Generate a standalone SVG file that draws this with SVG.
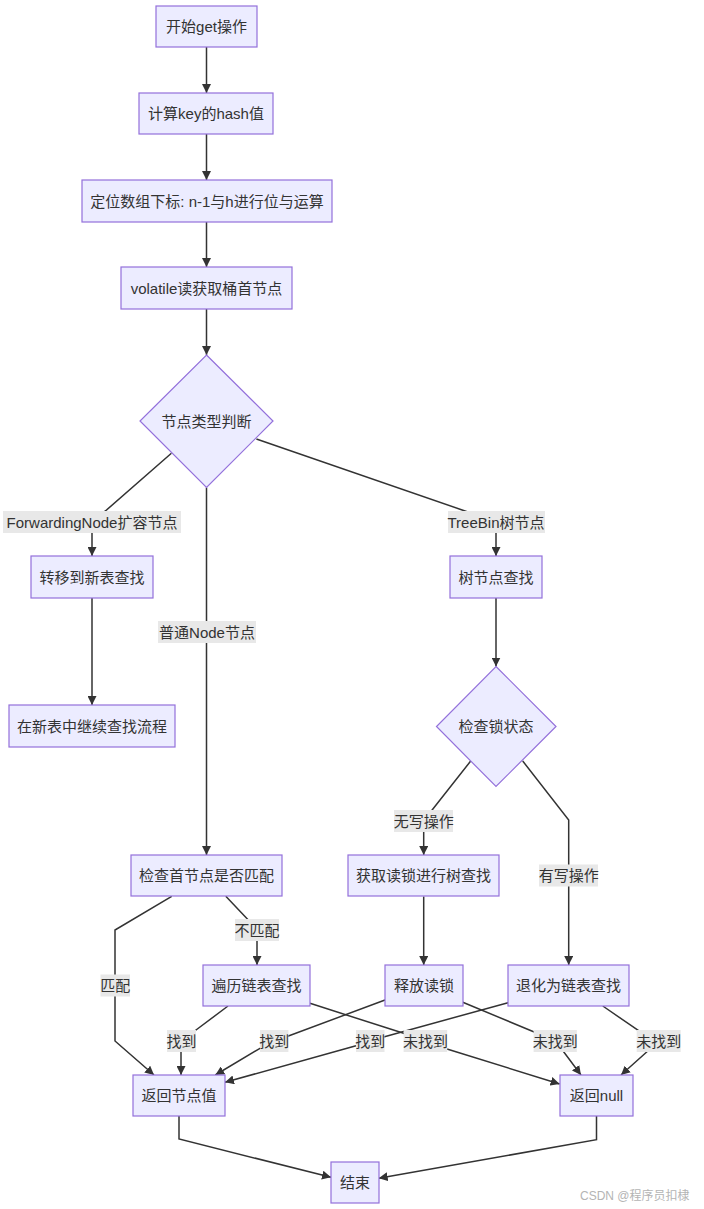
<svg xmlns="http://www.w3.org/2000/svg" width="704" height="1209" viewBox="0 0 704 1209">
<style>
.n rect,.n polygon{fill:#ECECFF;stroke:#9370DB;stroke-width:1.2}
text{font-family:"Liberation Sans","Noto Sans CJK SC",sans-serif;font-size:15px;fill:#333;text-anchor:middle;dominant-baseline:central}
.e path{fill:none;stroke:#333;stroke-width:1.5}
.lb rect{fill:#e8e8e8}
.wm{font-size:12px;fill:#b4b4b4;text-anchor:start}
</style>
<defs>
<marker id="ah" viewBox="0 0 10 10" refX="10" refY="5" markerWidth="9" markerHeight="9" markerUnits="userSpaceOnUse" orient="auto">
<path d="M0,0 L10,5 L0,10 z" fill="#333"/>
</marker>
</defs>
<rect width="704" height="1209" fill="#fff"/>
<g id="connectors" class="e">
<path d="M206.5,47 V93" marker-end="url(#ah)"/>
<path d="M206.5,134 V180" marker-end="url(#ah)"/>
<path d="M206.5,222 V267" marker-end="url(#ah)"/>
<path d="M206.5,309 V355" marker-end="url(#ah)"/>
<path d="M171.4,453.3 L105.7,510.7 L92,522 L92,556" marker-end="url(#ah)"/>
<path d="M206.5,487.5 V855" marker-end="url(#ah)"/>
<path d="M256.4,439 L464.3,510.7 L496,522 V556" marker-end="url(#ah)"/>
<path d="M92,598 V705" marker-end="url(#ah)"/>
<path d="M496,598 V666.5" marker-end="url(#ah)"/>
<path d="M470.7,761 L432.7,809.3 L423.7,821 V855" marker-end="url(#ah)"/>
<path d="M522.7,761 L568.7,820 V965" marker-end="url(#ah)"/>
<path d="M171.7,896.3 L115,930 V1041 L154,1075" marker-end="url(#ah)"/>
<path d="M225.8,896.3 L247.6,919.3 L257,930 V965" marker-end="url(#ah)"/>
<path d="M423.7,896.5 V965" marker-end="url(#ah)"/>
<path d="M228,1006 L196,1030 L181,1041 V1075" marker-end="url(#ah)"/>
<path d="M310,1003.3 L403.6,1033.3 L425,1041 L447,1049 L559.6,1084" marker-end="url(#ah)"/>
<path d="M385,1000 L288.4,1036 L274,1041 L260,1048.3 L215.3,1075" marker-end="url(#ah)"/>
<path d="M462.8,1002.3 L533.6,1031.7 L555,1041 L564,1052.3 L581,1075" marker-end="url(#ah)"/>
<path d="M508,1002.7 L384.5,1036.7 L370,1041 L356,1045.7 L225,1082.3" marker-end="url(#ah)"/>
<path d="M602.8,1006 L638.6,1030.7 L658.7,1041 L646.4,1052.3 L621,1075" marker-end="url(#ah)"/>
<path d="M179,1116 V1139 L331,1177.3" marker-end="url(#ah)"/>
<path d="M596.5,1116 V1139.7 L378.7,1178.3" marker-end="url(#ah)"/>
</g>
<g id="edge-labels" class="lb">
<g><rect x="3" y="511" width="178" height="22"/><text x="92" y="522">ForwardingNode扩容节点</text></g>
<g><rect x="448" y="511" width="97" height="22"/><text x="496" y="522">TreeBin树节点</text></g>
<g><rect x="158" y="621" width="98" height="22"/><text x="207" y="632">普通Node节点</text></g>
<g><rect x="394" y="810" width="59" height="22"/><text x="423.7" y="821">无写操作</text></g>
<g><rect x="539" y="864.5" width="59" height="22"/><text x="568.7" y="875.5">有写操作</text></g>
<g><rect x="100.5" y="974.5" width="29.5" height="22"/><text x="115.2" y="985.5">匹配</text></g>
<g><rect x="235" y="919" width="44" height="22"/><text x="257" y="930">不匹配</text></g>
<g><rect x="167" y="1030" width="29" height="22"/><text x="181.5" y="1041">找到</text></g>
<g><rect x="403.6" y="1030" width="43.6" height="22"/><text x="425.4" y="1041">未找到</text></g>
<g><rect x="260" y="1030" width="28.4" height="22"/><text x="274.2" y="1041">找到</text></g>
<g><rect x="533.6" y="1030" width="43.2" height="22"/><text x="555.2" y="1041">未找到</text></g>
<g><rect x="356" y="1030" width="28.5" height="22"/><text x="370.3" y="1041">找到</text></g>
<g><rect x="636.7" y="1030" width="44" height="22"/><text x="658.7" y="1041">未找到</text></g>
</g>
<g id="start" class="n"><rect x="156" y="6" width="101" height="41"/><text x="206.5" y="26.5">开始get操作</text></g>
<g id="hash" class="n"><rect x="139" y="93" width="134" height="41"/><text x="206" y="113.5">计算key的hash值</text></g>
<g id="index" class="n"><rect x="82" y="180" width="250" height="42"/><text x="207" y="201">定位数组下标: n-1与h进行位与运算</text></g>
<g id="volatile" class="n"><rect x="121" y="267" width="171" height="42"/><text x="206.5" y="288">volatile读获取桶首节点</text></g>
<g id="typecheck" class="n"><polygon points="206.5,355 273,421 206.5,487.5 140,421"/><text x="206.5" y="421">节点类型判断</text></g>
<g id="forward" class="n"><rect x="31" y="556" width="122" height="42"/><text x="92" y="577">转移到新表查找</text></g>
<g id="continue" class="n"><rect x="9" y="705" width="166" height="42"/><text x="92" y="726">在新表中继续查找流程</text></g>
<g id="treesearch" class="n"><rect x="450" y="556" width="92" height="42"/><text x="496" y="577">树节点查找</text></g>
<g id="lockcheck" class="n"><polygon points="496,666.5 556,726.5 496,786.5 436.5,726.5"/><text x="496" y="726.5">检查锁状态</text></g>
<g id="checkfirst" class="n"><rect x="131" y="855" width="151" height="41"/><text x="206.5" y="875.5">检查首节点是否匹配</text></g>
<g id="readlock" class="n"><rect x="348" y="855" width="151" height="41"/><text x="423.5" y="875.5">获取读锁进行树查找</text></g>
<g id="traverse" class="n"><rect x="203" y="965" width="107" height="41"/><text x="256.5" y="985.5">遍历链表查找</text></g>
<g id="release" class="n"><rect x="385" y="965" width="78" height="41"/><text x="424" y="985.5">释放读锁</text></g>
<g id="degrade" class="n"><rect x="508" y="965" width="121" height="41"/><text x="568.5" y="985.5">退化为链表查找</text></g>
<g id="retval" class="n"><rect x="133" y="1075" width="92" height="41"/><text x="179" y="1095.5">返回节点值</text></g>
<g id="retnull" class="n"><rect x="560" y="1075" width="73" height="41"/><text x="596.5" y="1095.5">返回null</text></g>
<g id="end" class="n"><rect x="331" y="1162" width="48" height="41"/><text x="355" y="1182.5">结束</text></g>
<text class="wm" x="580" y="1196">CSDN @程序员扣棣</text>
</svg>
